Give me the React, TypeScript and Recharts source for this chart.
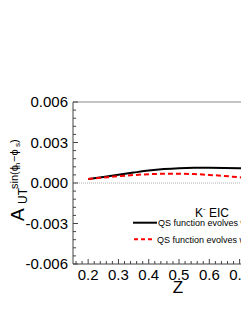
import React from "react";
import { LineChart, Line, XAxis, YAxis, ReferenceLine, Legend } from "recharts";

const zValues = [0.2, 0.25, 0.3, 0.35, 0.4, 0.45, 0.5, 0.55, 0.6, 0.65, 0.7, 0.75, 0.8];
const seriesBlack = [0.0003, 0.00045, 0.00061, 0.00077, 0.00092, 0.00103, 0.0011, 0.00113, 0.00113, 0.00112, 0.0011, 0.00107, 0.00104];
const seriesRed = [0.0003, 0.0004, 0.0005, 0.00059, 0.00065, 0.00068, 0.00068, 0.00066, 0.0006, 0.00052, 0.00042, 0.00033, 0.00025];

const xTicks = [0.16, 0.18, 0.2, 0.22, 0.24, 0.26, 0.28, 0.3, 0.32, 0.34, 0.36, 0.38, 0.4, 0.42, 0.44, 0.46, 0.48, 0.5, 0.52, 0.54, 0.56, 0.58, 0.6, 0.62, 0.64, 0.66, 0.68, 0.7, 0.72, 0.74, 0.76, 0.78, 0.8, 0.82, 0.84, 0.86, 0.88, 0.9, 0.92, 0.94, 0.96, 0.98, 1.0];
const xMajor = ["0.2", "0.3", "0.4", "0.5", "0.6", "0.7", "0.8", "0.9", "1"];
const yTicks = [-0.006, -0.0054, -0.0048, -0.0042, -0.0036, -0.003, -0.0024, -0.0018, -0.0012, -0.0006, 0, 0.0006, 0.0012, 0.0018, 0.0024, 0.003, 0.0036, 0.0042, 0.0048, 0.0054, 0.006];
const yMajor = ["-0.006", "-0.003", "0.000", "0.003", "0.006"];

const legendTitle = "K";
const legendNames = ["QS function evolves with TMD evolution", "QS function evolves with DGLAP"];

const data = zValues.map((z, i) => ({ z, black: seriesBlack[i], red: seriesRed[i] }));

const FONT = "'Liberation Sans', Arial, Helvetica, sans-serif";

const findMajor = (v: number, majors: string[]) => majors.find((m) => Math.abs(parseFloat(m) - v) < 1e-9);

const XTick = (props: any) => {
  const { x, y, payload } = props;
  const label = findMajor(payload.value, xMajor);
  return (
    <g>
      <line x1={x} x2={x} y1={y} y2={y - (label ? 5 : 3)} stroke="#444" strokeWidth={1} />
      {label && (
        <text x={x} y={y + 16} textAnchor="middle" fontSize={15} fontFamily={FONT} fill="#000">
          {label}
        </text>
      )}
    </g>
  );
};

const YTick = (props: any) => {
  const { x, y, payload } = props;
  const label = findMajor(payload.value, yMajor);
  return (
    <g>
      <line x1={x} x2={x + (label ? 5 : 3)} y1={y} y2={y} stroke="#444" strokeWidth={1} />
      {label && (
        <text x={x - 5} y={y + 5} textAnchor="end" fontSize={15} fontFamily={FONT} fill="#000">
          {label}
        </text>
      )}
    </g>
  );
};

const XLabel = () => (
  <text x={170} y={285} textAnchor="middle" fontSize={17} fontFamily={FONT} fill="#000">Z</text>
);

const YLabelParts = () => (
  <g fontFamily={FONT} fill="#000">
    <text transform="translate(16,213) rotate(-90)" fontSize={19}>A</text>
    <text transform="translate(19,196) rotate(-90)" fontSize={12}>UT</text>
    <text transform="translate(10,181) rotate(-90)" fontSize={11}>sin(ϕ</text>
    <text transform="translate(12,159) rotate(-90)" fontSize={8}>h</text>
    <text transform="translate(10,154) rotate(-90)" fontSize={11}>−ϕ</text>
    <text transform="translate(12,139) rotate(-90)" fontSize={8}>s</text>
    <text transform="translate(10,135) rotate(-90)" fontSize={11}>)</text>
  </g>
);

const LegendContent = () => (
  <svg width={340} height={315} style={{ display: "block" }}>
    <YLabelParts />
    <text x={187} y={209} fontSize={12} fontFamily={FONT} fill="#000">
      {legendTitle}
      <tspan fontSize={8} dy={-6}>-</tspan>
      <tspan fontSize={12} dy={6}> EIC</tspan>
    </text>
    <line x1={125} x2={149} y1={214.7} y2={214.7} stroke="#000" strokeWidth={2} />
    <text x={150} y={218} fontSize={9} fontFamily={FONT} fill="#000">{legendNames[0]}</text>
    <line x1={126} x2={145} y1={231.3} y2={231.3} stroke="#ff0000" strokeWidth={2} strokeDasharray="4 3" />
    <text x={149} y={234.7} fontSize={9} fontFamily={FONT} fill="#000">{legendNames[1]}</text>
  </svg>
);

export default function App() {
  return (
    <div style={{ width: 241, height: 315, overflow: "hidden", position: "relative" }}>
      <LineChart width={340} height={315} data={data} margin={{ top: 84, right: 17.5, bottom: 29, left: 5 }}>
        <XAxis
          dataKey="z"
          type="number"
          domain={[0.15, 1.0]}
          ticks={xTicks}
          interval={0}
          height={30}
          tickSize={0}
          tickMargin={0}
          tickLine={false}
          tick={<XTick />}
          axisLine={{ stroke: "#444", strokeWidth: 1 }}
          label={<XLabel />}
        />
        <XAxis
          xAxisId="top"
          orientation="top"
          dataKey="z"
          type="number"
          domain={[0.15, 1.0]}
          height={10}
          tick={false}
          tickLine={false}
          axisLine={{ stroke: "#888", strokeWidth: 1 }}
        />
        <YAxis
          type="number"
          domain={[-0.006, 0.006]}
          ticks={yTicks}
          interval={0}
          width={60}
          tickSize={0}
          tickMargin={0}
          tickLine={false}
          tick={<YTick />}
          axisLine={{ stroke: "#444", strokeWidth: 1 }}
        />
        <ReferenceLine y={0} stroke="#b0b0b0" strokeWidth={1} strokeDasharray="1 1" />
        <Line type="monotone" dataKey="black" stroke="#000" strokeWidth={2} dot={false} isAnimationActive={false} />
        <Line type="monotone" dataKey="red" stroke="#ff0000" strokeWidth={2} strokeDasharray="5 3" dot={false} isAnimationActive={false} />
        <Legend
          layout="horizontal"
          verticalAlign="middle"
          align="center"
          content={<LegendContent />}
          wrapperStyle={{ position: "absolute", left: 0, top: 0, width: 340, height: 315, pointerEvents: "none" }}
        />
      </LineChart>
    </div>
  );
}
